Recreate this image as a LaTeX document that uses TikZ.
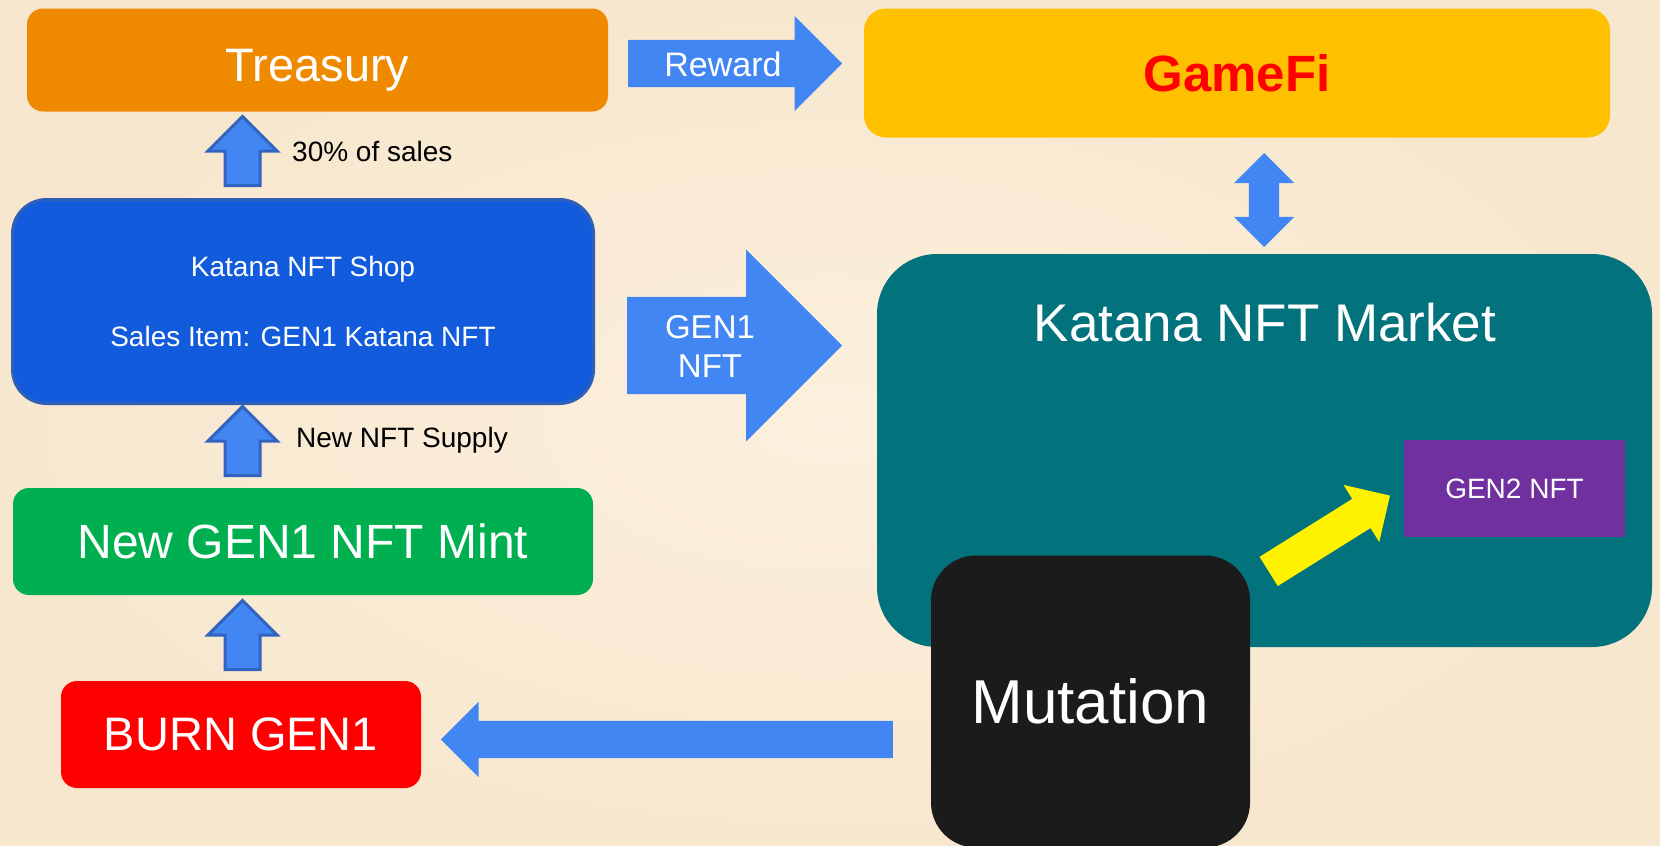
\documentclass[tikz,border=0pt]{standalone}
\usepackage{fontspec}
\setmainfont{Liberation Sans}
\usetikzlibrary{shapes.arrows}

\definecolor{paperin}{RGB}{252,240,222}
\definecolor{paperout}{RGB}{247,231,206}
\definecolor{treasuryorange}{RGB}{238,137,0}
\definecolor{gamegold}{RGB}{255,192,0}
\definecolor{shopblue}{RGB}{17,91,220}
\definecolor{shopedge}{RGB}{47,96,182}
\definecolor{mintgreen}{RGB}{0,176,80}
\definecolor{burnred}{RGB}{255,0,0}
\definecolor{marketteal}{RGB}{2,114,124}
\definecolor{genpurple}{RGB}{112,48,160}
\definecolor{mutblack}{RGB}{27,27,27}
\definecolor{arrowblue}{RGB}{66,134,244}
\definecolor{arrowedge}{RGB}{50,99,190}

\begin{document}
\begin{tikzpicture}[
    x=1pt, y=-1pt,
    every node/.style={text=white, inner sep=0pt},
    box/.style={rectangle, rounded corners=16pt},
    blk/.style={single arrow, anchor=tail, fill=arrowblue},
    uparrow/.style={single arrow, rotate=90, anchor=tail, fill=arrowblue, draw=arrowedge,
        line width=3pt, inner sep=16pt, single arrow head extend=17pt, minimum height=69pt},
    note/.style={anchor=west, text=black, font=\fontsize{28}{34}\selectfont}
]
\useasboundingbox (0,0) rectangle (1660,846);
\shade[inner color=paperin, outer color=paperout] (0,0) rectangle (1660,846);

% Boxes placed at coordinates
\node[box, fill=treasuryorange, minimum width=581pt, minimum height=103pt] (treasury) at (317.5,60) {};
\node[font=\fontsize{47}{56}\selectfont] (treasurytxt) at (317.5,70) {Treasury};
\node[box, fill=gamegold, rounded corners=22pt, minimum width=746pt, minimum height=129pt,
    text=red, font=\fontsize{51}{60}\selectfont\bfseries] (gamefi) at (1237,73) {GameFi};
\node[box, fill=shopblue, draw=shopedge, line width=3pt, rounded corners=34pt,
    minimum width=581pt, minimum height=204pt, align=center,
    font=\fontsize{28}{70}\selectfont] (shop) at (303,301.5) {Katana NFT Shop\\Sales Item: GEN1 Katana NFT};
\node[box, fill=mintgreen, minimum width=580pt, minimum height=107pt,
    font=\fontsize{48}{57}\selectfont] (mint) at (303,541.5) {New GEN1 NFT Mint};
\node[box, fill=burnred, minimum width=360pt, minimum height=107pt,
    font=\fontsize{47}{56}\selectfont] (burn) at (241,734.5) {BURN GEN1};
\node[box, fill=marketteal, rounded corners=60pt, minimum width=775pt, minimum height=393pt]
    (market) at (1264.5,450.5) {};
\node[font=\fontsize{53}{63}\selectfont] (markettitle) at (1265,323) {Katana NFT Market};
\node[rectangle, fill=genpurple, minimum width=221pt, minimum height=97pt,
    font=\fontsize{28}{34}\selectfont] (gen2) at (1514.5,488.5) {GEN2 NFT};
\node[box, fill=mutblack, rounded corners=45pt, minimum width=319pt, minimum height=292pt,
    font=\fontsize{62}{74}\selectfont] (mutation) at (1090.5,701.5) {Mutation};

% Block arrows
\node[blk, inner sep=23.5pt, single arrow head extend=24pt, minimum height=214pt] (rewardarr) at (628,63.5) {};
\node[font=\fontsize{34}{40}\selectfont] (rewardtxt) at (723,64.5) {Reward};
\node[blk, inner sep=48.5pt, single arrow head extend=47.5pt, minimum height=215pt] (gen1arr) at (627,345.5) {};
\node[align=center, font=\fontsize{33}{39}\selectfont] (gen1txt) at (710,346) {GEN1\\NFT};
\node[blk, rotate=180, inner sep=18.5pt, single arrow head extend=19pt, minimum height=452pt] (burnarr) at (893,739.5) {};
\node[double arrow, fill=arrowblue, rotate=90, inner sep=15pt, double arrow head extend=15pt,
    minimum height=94pt] (gamearr) at (1264,200) {};
\node[single arrow, anchor=tail, fill=yellow, rotate=32, inner sep=17pt, single arrow head extend=16.5pt,
    minimum height=143pt] (mutarr) at (1268.5,571.5) {};

\node[uparrow] (salesarr) at (242.5,187) {};
\node[uparrow] (supplyarr) at (242.5,477) {};
\node[uparrow] (mintarr) at (242.5,671) {};

\node[note] (salesnote) at (292,151) {30\% of sales};
\node[note] (supplynote) at (296,440) {New NFT Supply};
\end{tikzpicture}
\end{document}
